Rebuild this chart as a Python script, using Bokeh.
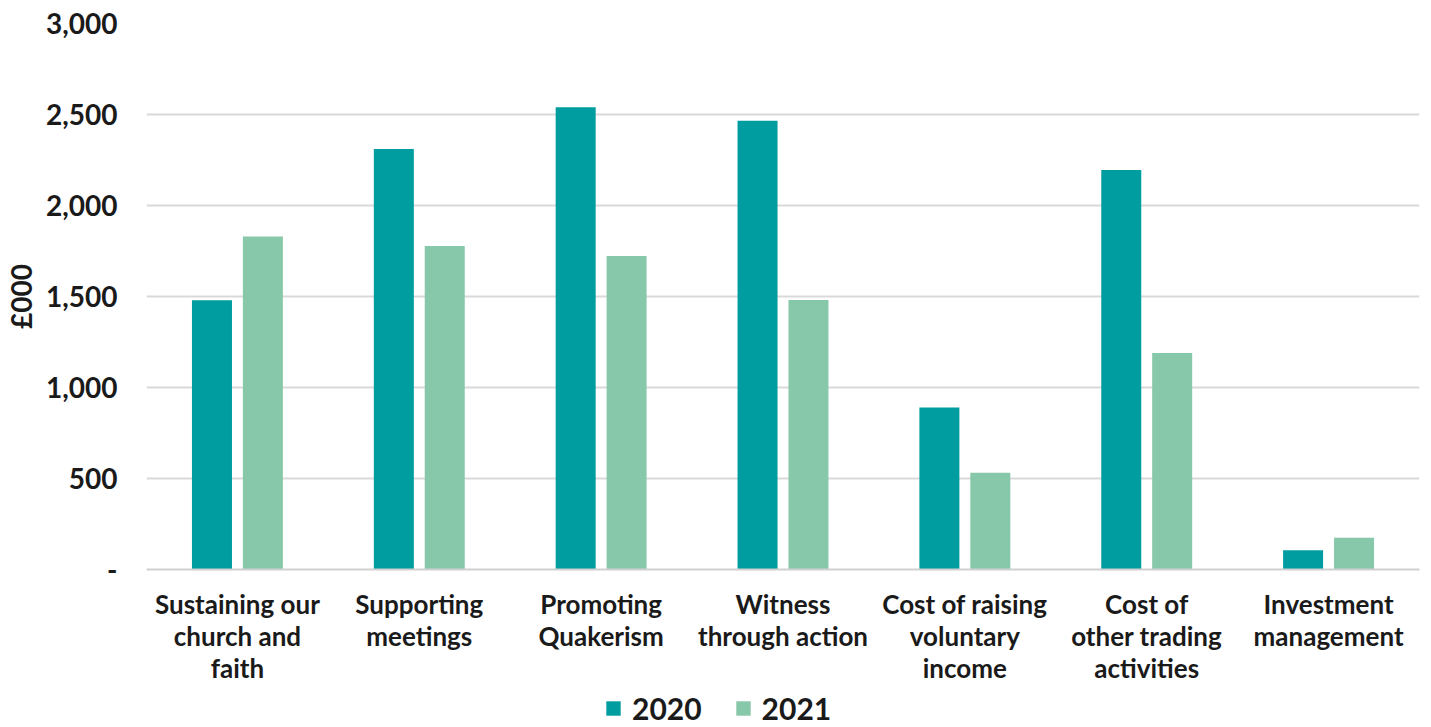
from bokeh.plotting import figure
from bokeh.layouts import column
from bokeh.models import (FactorRange, FixedTicker, NumeralTickFormatter, Legend, LegendItem,
                          ColumnDataSource, Range1d)
from bokeh.transform import dodge
from bokeh.embed import file_html
from bokeh.resources import INLINE

categories = ["Sustaining our\nchurch and\nfaith", "Supporting\nmeetings", "Promoting\nQuakerism",
              "Witness\nthrough action", "Cost of raising\nvoluntary\nincome",
              "Cost of\nother trading\nactivities", "Investment\nmanagement"]
values_2020 = [1480, 2310, 2540, 2465, 890, 2195, 106]
values_2021 = [1830, 1778, 1722, 1481, 532, 1190, 174]
series_names = ["2020", "2021"]
y_ticks = [0, 500, 1000, 1500, 2000, 2500, 3000]

FONT = "Lato"
TEXT = "#1a1a1a"
C2020 = "#009DA0"
C2021 = "#88C8AA"

src = ColumnDataSource(dict(cat=categories, v2020=values_2020, v2021=values_2021))

p = figure(x_range=FactorRange(*categories), y_range=(0, 3000),
           width=1422, height=689, output_backend="svg", toolbar_location=None,
           min_border_left=139, min_border_right=3, min_border_top=23, min_border_bottom=120)

r1 = p.vbar(x=dodge("cat", -0.14, range=p.x_range), top="v2020", width=0.22, source=src,
            fill_color=C2020, line_color=None)
r2 = p.vbar(x=dodge("cat", 0.14, range=p.x_range), top="v2021", width=0.22, source=src,
            fill_color=C2021, line_color=None)

p.outline_line_color = None
p.xgrid.grid_line_color = None
p.ygrid.grid_line_color = "#d9d9d9"
p.ygrid.grid_line_width = 2

p.yaxis.ticker = FixedTicker(ticks=y_ticks)
p.yaxis.formatter = NumeralTickFormatter(format="0,0")
p.yaxis.major_label_overrides = {0: "-"}
p.yaxis.axis_line_color = None
p.yaxis.major_tick_line_color = None
p.yaxis.minor_tick_line_color = None
p.yaxis.major_label_standoff = 23
p.yaxis.major_label_text_font = FONT
p.yaxis.major_label_text_font_style = "bold"
p.yaxis.major_label_text_font_size = "28px"
p.yaxis.major_label_text_color = TEXT
p.yaxis.axis_label = "£000"
p.yaxis.axis_label_text_font = FONT
p.yaxis.axis_label_text_font_style = "bold"
p.yaxis.axis_label_text_font_size = "28px"
p.yaxis.axis_label_text_color = TEXT
p.yaxis.axis_label_standoff = 5

p.xaxis.axis_line_color = "#d0d0d0"
p.xaxis.axis_line_width = 2
p.xaxis.major_tick_line_color = None
p.xaxis.minor_tick_line_color = None
p.xaxis.major_label_standoff = 12
p.xaxis.major_label_text_font = FONT
p.xaxis.major_label_text_font_style = "bold"
p.xaxis.major_label_text_font_size = "26px"
p.xaxis.major_label_text_color = TEXT
p.xaxis.major_label_text_line_height = 1.0
p.xaxis.major_label_orientation = "horizontal"

# legend strip below the chart (its frame is aligned with the chart's frame)
lg = figure(width=1422, height=37, output_backend="svg", toolbar_location=None,
            x_range=Range1d(0, 1), y_range=Range1d(0, 1), x_axis_type=None, y_axis_type=None,
            min_border_left=139, min_border_right=3, min_border_top=0, min_border_bottom=0)
lg.outline_line_color = None
lg.xgrid.visible = False
lg.ygrid.visible = False
# zero-height placeholder renderers that only supply the legend swatches
d1 = lg.vbar(x=[0.5], top=[0], width=0.01, fill_color=C2020, line_color=None)
d2 = lg.vbar(x=[0.5], top=[0], width=0.01, fill_color=C2021, line_color=None)
legend = Legend(items=[LegendItem(label=series_names[0], renderers=[d1]),
                       LegendItem(label=series_names[1], renderers=[d2])],
                orientation="horizontal", location=(458, 0),
                label_text_font=FONT, label_text_font_style="bold", label_text_font_size="30px",
                label_text_color=TEXT, glyph_width=18, glyph_height=18,
                spacing=32, padding=0, margin=0, border_line_color=None,
                background_fill_alpha=0, label_standoff=10, label_height=36)
lg.add_layout(legend, "center")

layout = column(p, lg, spacing=0)
open("out.html", "w").write(file_html(layout, INLINE))
